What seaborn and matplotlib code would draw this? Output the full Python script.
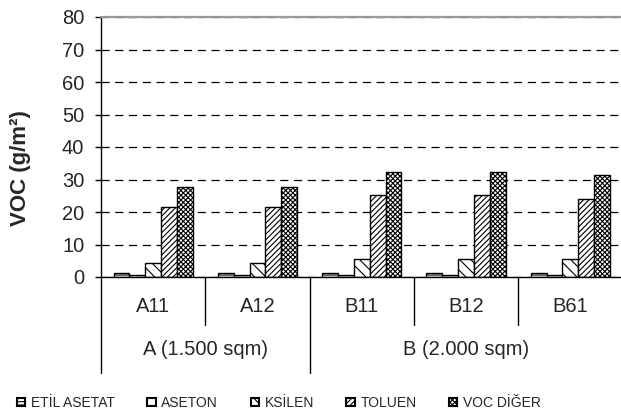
import numpy as np
import pandas as pd
import seaborn as sns
import matplotlib.pyplot as plt
from matplotlib.patches import Patch

# data
samples = ["A11", "A12", "B11", "B12", "B61"]
groups = ["A (1.500 sqm)", "B (2.000 sqm)"]
group_spans = [(0, 1), (2, 4)]
compounds = ["ETİL ASETAT", "ASETON", "KSİLEN", "TOLUEN", "VOC DİĞER"]
etil_asetat = [1.2, 1.2, 1.2, 1.2, 1.2]
aseton = [0.5, 0.5, 0.5, 0.5, 0.5]
ksilen = [4.3, 4.3, 5.5, 5.5, 5.4]
toluen = [21.5, 21.5, 25.2, 25.2, 24.0]
voc_diger = [27.6, 27.6, 32.4, 32.4, 31.3]

hatches = ["-----", "", "\\\\\\", "//////", "xxxxxxx"]

series = [etil_asetat, aseton, ksilen, toluen, voc_diger]
df = pd.DataFrame({
    "sample": np.repeat([samples], len(compounds), axis=0).ravel(),
    "compound": np.repeat(compounds, len(samples)),
    "value": np.concatenate(series),
})

sns.set_style("white")
plt.rcParams["font.family"] = ["Liberation Sans", "DejaVu Sans"]
plt.rcParams["hatch.linewidth"] = 0.8

fig = plt.figure(figsize=(6.21, 4.17), dpi=100)
ax = fig.add_axes([101 / 621, 140 / 417, 521.5 / 621, 260 / 417])

sns.barplot(data=df, x="sample", y="value", hue="compound", order=samples,
            hue_order=compounds, width=0.76, ax=ax, legend=False,
            edgecolor="black", linewidth=1.0, saturation=1)

for cont, h in zip(ax.containers, hatches):
    for bar in cont:
        bar.set_facecolor("white")
        bar.set_edgecolor("black")
        bar.set_hatch(h)

ax.set_ylim(0, 80)
ax.set_xlim(-0.5, len(samples) - 0.5)
ax.set_yticks(range(0, 81, 10))
ax.tick_params(axis="y", labelsize=14.5, length=4, width=1, color="black",
               direction="out", left=True, pad=8)
ax.set_xticks([])
ax.set_xlabel("")
ax.set_ylabel("VOC (g/m²)", fontsize=16, fontweight="bold")
ax.yaxis.set_label_coords(-0.135, 0.42)

ax.yaxis.grid(True, color="black", lw=0.9, ls=(0, (6.5, 4.5)))
ax.set_axisbelow(True)
ax.axhline(80, color="#999999", lw=1.6, clip_on=False, zorder=5)

for s in ["top", "right"]:
    ax.spines[s].set_visible(False)
ax.spines["left"].set_color("black")
ax.spines["bottom"].set_color("black")
ax.spines["left"].set_linewidth(1)
ax.spines["bottom"].set_linewidth(1)

# multi-level category axis
trans = ax.get_xaxis_transform()
for i, name in enumerate(samples):
    ax.text(i, -0.115, name, transform=trans, ha="center", va="center", fontsize=14.5)
for (a, b), name in zip(group_spans, groups):
    ax.text((a + b) / 2, -0.28, name, transform=trans, ha="center", va="center", fontsize=14.5)

outer = [a - 0.5 for a, b in group_spans] + [group_spans[-1][1] + 0.5]
inner = [x + 0.5 for x in range(len(samples) - 1) if x + 0.5 not in outer]
for x in outer:
    ax.plot([x, x], [0, -0.37], transform=trans, color="black", lw=1, clip_on=False)
for x in inner:
    ax.plot([x, x], [0, -0.185], transform=trans, color="black", lw=1, clip_on=False)

handles = [Patch(facecolor="white", edgecolor="black", hatch=h, lw=1.5) for h in hatches]
fig.legend(handles, compounds, loc="center left", bbox_to_anchor=(0.027, 0.034),
           ncol=5, frameon=False, fontsize=10, handlelength=0.6, handleheight=0.6,
           handletextpad=0.4, columnspacing=2.35, borderpad=0, borderaxespad=0)

fig.savefig("out.png", dpi=100)
